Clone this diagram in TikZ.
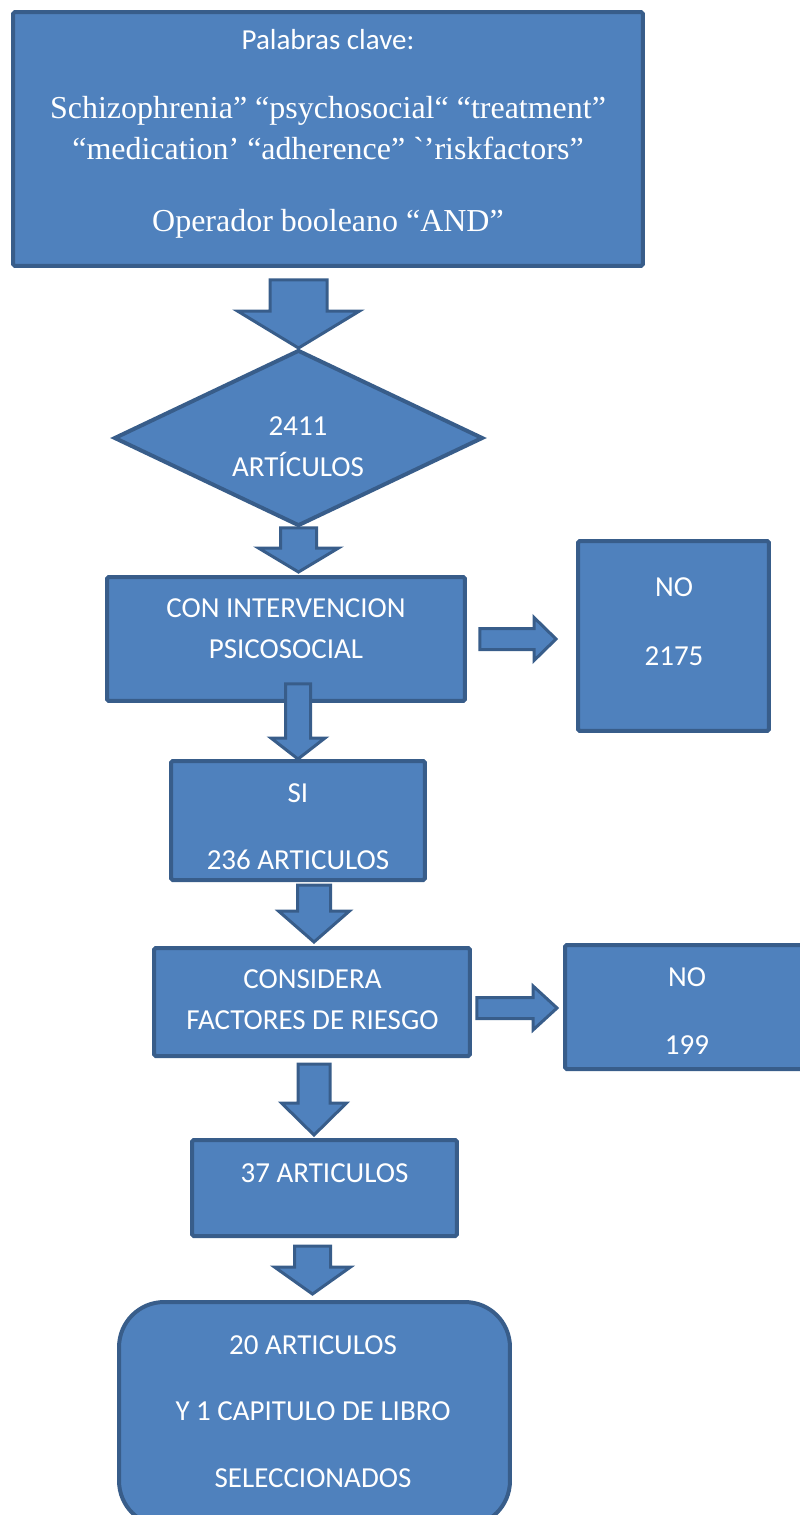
\documentclass[tikz,border=0pt]{standalone}
\usepackage{fontspec}
\setmainfont{Carlito}
\newfontfamily\tnr{Liberation Serif}
\usetikzlibrary{calc,shapes.geometric}
\definecolor{boxfill}{HTML}{4F81BD}
\definecolor{boxline}{HTML}{385D8A}
% block arrows: start, tip, half shaft, half head, head length
\newcommand{\downblock}[5]{\draw[blockarrow] ($(#1)+(-#3,0)$) -- ($(#2)+(-#3,-#5)$) -- ($(#2)+(-#4,-#5)$) -- (#2) -- ($(#2)+(#4,-#5)$) -- ($(#2)+(#3,-#5)$) -- ($(#1)+(#3,0)$) -- cycle;}
\newcommand{\rightblock}[5]{\draw[blockarrow] ($(#1)+(0,-#3)$) -- ($(#2)+(-#5,-#3)$) -- ($(#2)+(-#5,-#4)$) -- (#2) -- ($(#2)+(-#5,#4)$) -- ($(#2)+(-#5,#3)$) -- ($(#1)+(0,#3)$) -- cycle;}

\begin{document}
\begin{tikzpicture}[x=0.02cm, y=-0.02cm,
  box/.style={draw=boxline, fill=boxfill, line width=0.08cm, rounded corners=1pt, inner sep=0pt},
  txt/.style={text=white, align=center, font=\fontsize{16.5}{23.3}\selectfont, inner sep=0pt},
  serif/.style={font=\tnr\fontsize{18.2}{22.8}\selectfont},
  blockarrow/.style={draw=boxline, fill=boxfill, line width=0.06cm, line join=miter}]
  \useasboundingbox (0,0) rectangle (800,1515);

  \node[box, minimum width=12.6cm, minimum height=5.08cm] (top) at (328,139) {};
  \node[box, diamond, rounded corners=0pt, minimum width=7.38cm, minimum height=3.52cm] (dia) at (298.5,438) {};
  \node[box, minimum width=7.16cm, minimum height=2.48cm] (box2) at (286,639) {};
  \node[box, minimum width=3.82cm, minimum height=3.80cm] (no1) at (673.5,636) {};
  \node[box, minimum width=5.08cm, minimum height=2.38cm] (si) at (298,820.5) {};
  \node[box, minimum width=6.32cm, minimum height=2.16cm] (cons) at (312,1002) {};
  \node[box, minimum width=4.86cm, minimum height=2.48cm] (no2) at (686.5,1007) {};
  \node[box, minimum width=5.30cm, minimum height=1.92cm] (art37) at (324.5,1188) {};
  \node[box, rounded corners=0.9cm, minimum width=7.82cm, minimum height=4.48cm] (fin) at (314.5,1414) {};

  \coordinate (a1s) at ($(dia.north |- top.south)+(0,12)$);
  \coordinate (a1t) at (dia.north);
  \coordinate (a2s) at (dia.south);
  \coordinate (a2t) at ($(box2.north -| dia.south)+(0,-3)$);
  \coordinate (a3s) at ($(box2.south -| si.north)+(0,-19)$);
  \coordinate (a3t) at (si.north);
  \coordinate (a4s) at ($(si.south)+(16,3)$);
  \coordinate (a4t) at ($(cons.north -| a4s)+(0,-4)$);
  \coordinate (a5s) at ($(cons.south)+(2,6)$);
  \coordinate (a5t) at ($(art37.north -| a5s)+(0,-3)$);
  \coordinate (a6s) at ($(art37.south)+(-12,8)$);
  \coordinate (a6t) at ($(fin.north -| a6s)+(0,-6)$);
  \coordinate (r1s) at ($(box2.east)+(13,0)$);
  \coordinate (r1t) at ($(no1.west |- r1s)+(-20,0)$);
  \coordinate (r2s) at ($(cons.east)+(5,6)$);
  \coordinate (r2t) at ($(no2.west |- r2s)+(-6,0)$);

  \downblock{a1s}{a1t}{28.5}{61}{37}
  \downblock{a2s}{a2t}{18}{40}{24}
  \downblock{a3s}{a3t}{12.5}{27}{21}
  \downblock{a4s}{a4t}{16.5}{35.5}{31}
  \downblock{a5s}{a5t}{16}{32.5}{32}
  \downblock{a6s}{a6t}{18}{38}{27}
  \rightblock{r1s}{r1t}{10.5}{21.5}{22}
  \rightblock{r2s}{r2t}{10.5}{22}{24}

  \node[txt] (topT) at (328,134) {Palabras clave:\\[15.7pt]
    \tnr\fontsize{18.2}{22.8}\selectfont Schizophrenia” “psychosocial“ “treatment”\\
    \tnr\fontsize{18.2}{22.8}\selectfont “medication’ “adherence” {\char"60}’riskfactors”\\[18pt]
    \tnr\fontsize{18.2}{22.8}\selectfont Operador booleano “AND”};
  \node[txt] (diaT) at (298,446.5) {2411\\ARTÍCULOS};
  \node[txt] (box2T) at (286,628.5) {CON INTERVENCION\\PSICOSOCIAL};
  \node[txt] (no1T) at (674,621.5) {NO\\[16pt]2175};
  \node[txt] (siT) at (298,826.5) {SI\\[14.8pt]236 ARTICULOS};
  \node[txt] (consT) at (312.5,999.5) {CONSIDERA\\FACTORES DE RIESGO};
  \node[txt] (no2T) at (687,1011) {NO\\[15.4pt]199};
  \node[txt] (art37T) at (324.5,1173) {37 ARTICULOS};
  \node[txt] (finT) at (313,1411.5) {20 ARTICULOS\\[14.5pt]Y 1 CAPITULO DE LIBRO\\[14.5pt]SELECCIONADOS};
\end{tikzpicture}
\end{document}
